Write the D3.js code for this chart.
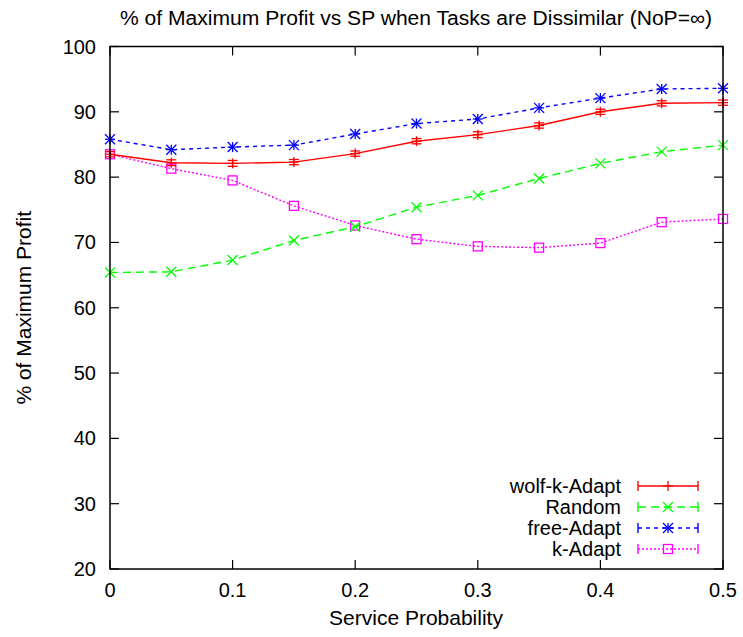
<!DOCTYPE html>
<html>
<head>
<meta charset="utf-8">
<script src="https://cdn.jsdelivr.net/npm/d3@7"></script>
<style>
body { margin: 0; background: #fff; }
text { font-family: "Liberation Sans", Arial, sans-serif; fill: #000; font-size: 20px; }
</style>
</head>
<body>
<svg width="743" height="637"></svg>
<script>
var sp = [0, 0.05, 0.1, 0.15, 0.2, 0.25, 0.3, 0.35, 0.4, 0.45, 0.5]

var wolfK = [83.5, 82.2, 82.1, 82.3, 83.6, 85.5, 86.5, 87.9, 90.0, 91.3, 91.4]
var wolfKErr = [0.4, 0.45, 0.45, 0.4, 0.4, 0.4, 0.45, 0.4, 0.4, 0.4, 0.4]
var random = [65.4, 65.5, 67.3, 70.3, 72.4, 75.4, 77.2, 79.8, 82.1, 83.9, 84.9]
var freeAdapt = [85.8, 84.2, 84.6, 84.9, 86.6, 88.2, 88.9, 90.6, 92.1, 93.5, 93.6]
var kAdapt = [83.5, 81.3, 79.5, 75.6, 72.6, 70.5, 69.4, 69.2, 69.9, 73.1, 73.6]

var xTicks = [0, 0.1, 0.2, 0.3, 0.4, 0.5]
var yTicks = [20, 30, 40, 50, 60, 70, 80, 90, 100]

var series = [
	{name: "wolf-k-Adapt", values: wolfK, err: wolfKErr, color: "#ff0000", dash: null, marker: "plus"},
	{name: "Random", values: random, color: "#00ff00", dash: "8,5", marker: "cross"},
	{name: "free-Adapt", values: freeAdapt, color: "#0000ff", dash: "4,4", marker: "star"},
	{name: "k-Adapt", values: kAdapt, color: "#ff00ff", dash: "2,2", marker: "square"}
]

var svg = d3.select("svg"),
	pLeft = 110, pRight = 723, pTop = 46.5, pBottom = 569

var x = d3.scaleLinear().domain([0, 0.5]).range([pLeft, pRight])
var y = d3.scaleLinear().domain([20, 100]).range([pBottom, pTop])

// title and labels
svg.append("text").attr("x", 416).attr("y", 25).attr("text-anchor", "middle")
	.attr("textLength", 592).attr("lengthAdjust", "spacingAndGlyphs")
	.text("% of Maximum Profit vs SP when Tasks are Dissimilar (NoP=\u221e)")
svg.append("text").attr("x", 416).attr("y", 625).attr("text-anchor", "middle")
	.style("font-size", "21px").text("Service Probability")
svg.append("text").attr("transform", "translate(31," + ((pTop + pBottom) / 2) + ") rotate(-90)")
	.attr("text-anchor", "middle").style("font-size", "21px").text("% of Maximum Profit")

// ticks, inward on all sides
var tk = 9
var g = svg.append("g").attr("stroke", "#000").attr("stroke-width", 1.2)
yTicks.forEach(function(t) {
	g.append("line").attr("x1", pLeft).attr("x2", pLeft + tk).attr("y1", y(t)).attr("y2", y(t))
	g.append("line").attr("x1", pRight).attr("x2", pRight - tk).attr("y1", y(t)).attr("y2", y(t))
	svg.append("text").attr("x", 96).attr("y", y(t) + 7).attr("text-anchor", "end").text(t)
})
xTicks.forEach(function(t) {
	g.append("line").attr("x1", x(t)).attr("x2", x(t)).attr("y1", pBottom).attr("y2", pBottom - tk)
	g.append("line").attr("x1", x(t)).attr("x2", x(t)).attr("y1", pTop).attr("y2", pTop + tk)
	svg.append("text").attr("x", x(t)).attr("y", 597).attr("text-anchor", "middle").text(t)
})

function drawMarker(sel, type, cx, cy, color) {
	var s = 5
	var m = sel.append("g").attr("stroke", color).attr("stroke-width", 1.3).attr("fill", "none")
	if (type == "plus" || type == "star") {
		m.append("line").attr("x1", cx - s).attr("x2", cx + s).attr("y1", cy).attr("y2", cy)
		m.append("line").attr("x1", cx).attr("x2", cx).attr("y1", cy - s).attr("y2", cy + s)
	}
	if (type == "cross" || type == "star") {
		m.append("line").attr("x1", cx - s).attr("x2", cx + s).attr("y1", cy - s).attr("y2", cy + s)
		m.append("line").attr("x1", cx - s).attr("x2", cx + s).attr("y1", cy + s).attr("y2", cy - s)
	}
	if (type == "square") {
		m.append("rect").attr("x", cx - 4.5).attr("y", cy - 4.5).attr("width", 9).attr("height", 9)
	}
}

var line = d3.line().x(function(d, i) { return x(sp[i]) }).y(function(d) { return y(d) })

var plot = svg.append("g")
series.slice().reverse().forEach(function(s) {
	plot.append("path").datum(s.values).attr("d", line)
		.attr("fill", "none").attr("stroke", s.color).attr("stroke-width", 1.4)
		.attr("stroke-dasharray", s.dash)
	s.values.forEach(function(v, i) {
		if (s.err) {
			var eb = plot.append("g").attr("stroke", s.color).attr("stroke-width", 1.3)
			eb.append("line").attr("x1", x(sp[i])).attr("x2", x(sp[i]))
				.attr("y1", y(v - s.err[i])).attr("y2", y(v + s.err[i]))
			;[v - s.err[i], v + s.err[i]].forEach(function(e) {
				eb.append("line").attr("x1", x(sp[i]) - 5).attr("x2", x(sp[i]) + 5)
					.attr("y1", y(e)).attr("y2", y(e))
			})
		}
		drawMarker(plot, s.marker, x(sp[i]), y(v), s.color)
	})
})

// frame
svg.append("rect").attr("x", pLeft).attr("y", pTop).attr("width", pRight - pLeft).attr("height", pBottom - pTop)
	.attr("fill", "none").attr("stroke", "#000").attr("stroke-width", 1.5)

// legend
var lx1 = 638, lx2 = 698, ly0 = 486, ldy = 21
series.forEach(function(s, i) {
	var ly = ly0 + i * ldy
	svg.append("text").attr("x", 621).attr("y", ly + 7).attr("text-anchor", "end").text(s.name)
	var lg = svg.append("g").attr("stroke", s.color).attr("stroke-width", 1.4)
	lg.append("line").attr("x1", lx1).attr("x2", lx2).attr("y1", ly).attr("y2", ly)
		.attr("stroke-dasharray", s.dash)
	lg.append("line").attr("x1", lx1).attr("x2", lx1).attr("y1", ly - 5).attr("y2", ly + 5)
	lg.append("line").attr("x1", lx2).attr("x2", lx2).attr("y1", ly - 5).attr("y2", ly + 5)
	drawMarker(svg, s.marker, (lx1 + lx2) / 2, ly, s.color)
})
</script>
</body>
</html>
